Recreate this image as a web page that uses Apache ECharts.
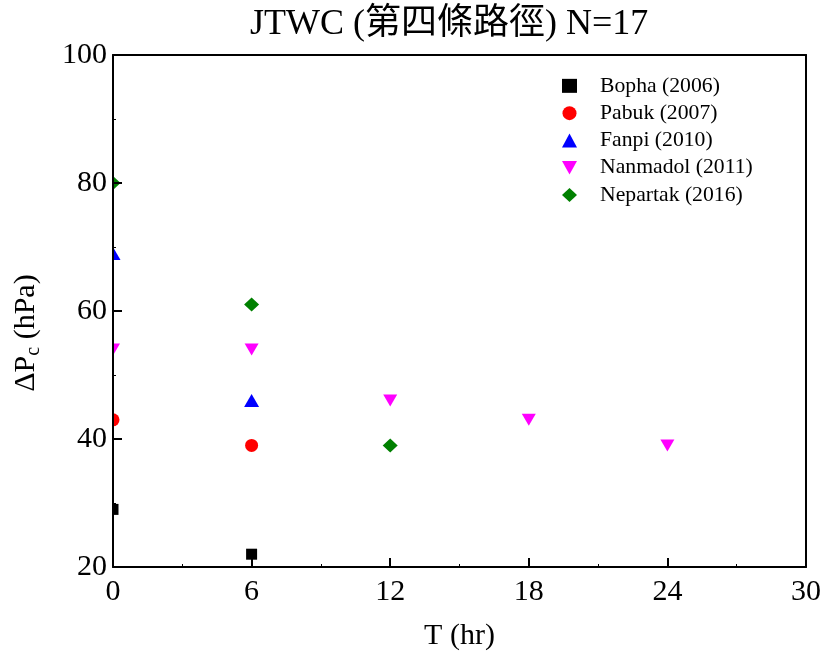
<!DOCTYPE html>
<html><head><meta charset="utf-8">
<script src="https://cdn.jsdelivr.net/npm/echarts@6/dist/echarts.min.js"></script>
<style>html,body{margin:0;padding:0;background:#fff}#c{width:824px;height:659px}</style>
</head><body><div id="c"></div>
<script>
const seriesNames = ['Bopha (2006)', 'Pabuk (2007)', 'Fanpi (2010)', 'Nanmadol (2011)', 'Nepartak (2016)'];
const bophaT = [0, 6];        const bophaP = [29, 22];
const pabukT = [0, 6];        const pabukP = [43, 39];
const fanpiT = [0, 6];        const fanpiP = [69, 46];
const nanmadolT = [0, 6, 12, 18, 24]; const nanmadolP = [54, 54, 46, 43, 39];
const nepartakT = [0, 6, 12]; const nepartakP = [80, 61, 39];
const xTicks = [0, 6, 12, 18, 24, 30];
const yTicks = [20, 40, 60, 80, 100];

const FONT = '"Liberation Serif", "Times New Roman", "Noto Sans CJK TC", serif';
const colors = ['#000000', '#ff0000', '#0000ff', '#ff00ff', '#008000'];
const symbols = ['rect', 'circle', 'triangle', 'path://M0,0 L10,0 L5,9 Z', 'diamond'];
const sizes = [11, 13, [15, 13], [14, 12], [15, 14]];
const tData = [bophaT, pabukT, fanpiT, nanmadolT, nepartakT];
const pData = [bophaP, pabukP, fanpiP, nanmadolP, nepartakP];

const chart = echarts.init(document.getElementById('c'), null, {renderer: 'canvas'});
const axisLine = {show: true, onZero: false, lineStyle: {color: '#000', width: 2}};
const tick = {show: true, inside: true, length: 9, lineStyle: {color: '#000', width: 2}};
const minor = {show: true, splitNumber: 2, length: 3, lineStyle: {color: '#000', width: 1}};
const series = seriesNames.map((n, i) => ({
  name: n, type: 'scatter', clip: true, z: 2,
  symbol: symbols[i], symbolSize: sizes[i],
  itemStyle: {color: colors[i], opacity: 1},
  data: tData[i].map((t, k) => [t, pData[i][k]])
}));
chart.setOption({
  animation: false,
  title: {text: 'JTWC (第四條路徑) N=17', left: 245, top: 2,
    textStyle: {fontFamily: FONT, fontSize: 36, fontWeight: 'normal', color: '#000'}},
  grid: {left: 113, right: 16, top: 55, bottom: 92},
  legend: {orient: 'vertical', left: 562, top: 75, padding: 0, itemGap: 5.6, itemWidth: 15, itemHeight: 14,
    textStyle: {fontFamily: FONT, fontSize: 21.7, color: '#000', padding: [0, 0, 0, 18]},
    data: seriesNames.map((n, i) => ({name: n, icon: symbols[i], itemStyle: {opacity: 1}}))},
  graphic: [{type: 'rect', z: 5, silent: true,
    shape: {x: 92, y: 50, width: 20, height: 522}, style: {fill: '#fff'}}],
  xAxis: [{
    type: 'value', min: 0, max: 30, interval: 6, position: 'bottom', z: 10,
    name: 'T (hr)', nameLocation: 'middle', nameGap: 54,
    nameTextStyle: {fontFamily: FONT, fontSize: 30, color: '#000'},
    axisLine: axisLine, axisTick: tick, minorTick: minor,
    axisLabel: {fontFamily: FONT, fontSize: 30, color: '#000', margin: 10,
      formatter: v => xTicks.includes(v) ? String(v) : ''},
    splitLine: {show: false}
  }, {
    type: 'value', min: 0, max: 30, interval: 6, position: 'top', z: 10,
    axisLine: axisLine, axisTick: {show: false},
    axisLabel: {show: false}, splitLine: {show: false}
  }],
  yAxis: [{
    type: 'value', min: 20, max: 100, interval: 20, position: 'left', z: 10,
    name: '{a|ΔP}{s|c}{a| (hPa)}', nameLocation: 'middle', nameGap: 69, nameRotate: 90,
    nameTextStyle: {padding: [0, 44, 0, 0], rich: {
      a: {fontFamily: FONT, fontSize: 30, color: '#000'},
      s: {fontFamily: FONT, fontSize: 20, color: '#000', verticalAlign: 'bottom', padding: [16, 0, 0, 0]}}},
    axisLine: axisLine, axisTick: tick, minorTick: minor,
    axisLabel: {fontFamily: FONT, fontSize: 30, color: '#000', margin: 6,
      formatter: v => yTicks.includes(v) ? String(v) : ''},
    splitLine: {show: false}
  }, {
    type: 'value', min: 20, max: 100, interval: 20, position: 'right', z: 10,
    axisLine: axisLine, axisTick: {show: false},
    axisLabel: {show: false}, splitLine: {show: false}
  }],
  series: series
});
</script></body></html>
